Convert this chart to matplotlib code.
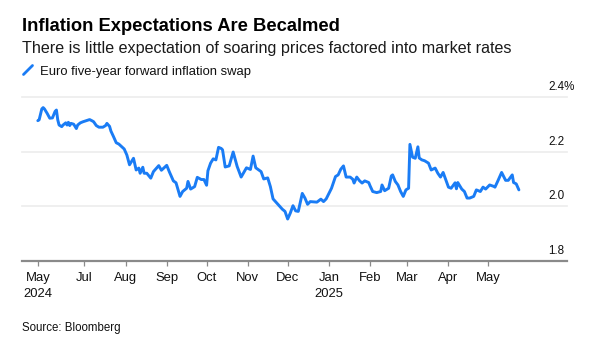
import matplotlib
matplotlib.use('Agg')
import matplotlib.pyplot as plt
import matplotlib.transforms as mtransforms
from matplotlib.lines import Line2D
import pandas as pd

# ---------------- data ----------------
dates = [
    '2024-05-27', '2024-05-28', '2024-05-30', '2024-05-31', '2024-06-01', '2024-06-03',
    '2024-06-05', '2024-06-07', '2024-06-09', '2024-06-10', '2024-06-11', '2024-06-12',
    '2024-06-14', '2024-06-15', '2024-06-17', '2024-06-18', '2024-06-19', '2024-06-20',
    '2024-06-21', '2024-06-23', '2024-06-25', '2024-06-26', '2024-06-28', '2024-06-30',
    '2024-07-03', '2024-07-05', '2024-07-07', '2024-07-08', '2024-07-10', '2024-07-12',
    '2024-07-15', '2024-07-17', '2024-07-18', '2024-07-20', '2024-07-21', '2024-07-23',
    '2024-07-25', '2024-07-27', '2024-07-29', '2024-07-31', '2024-08-02', '2024-08-04',
    '2024-08-07', '2024-08-09', '2024-08-11', '2024-08-12', '2024-08-14', '2024-08-15',
    '2024-08-17', '2024-08-20', '2024-08-22', '2024-08-26', '2024-08-28', '2024-09-01',
    '2024-09-03', '2024-09-06', '2024-09-08', '2024-09-11', '2024-09-13', '2024-09-16',
    '2024-09-17', '2024-09-19', '2024-09-22', '2024-09-24', '2024-09-27', '2024-09-29',
    '2024-10-01', '2024-10-02', '2024-10-04', '2024-10-06', '2024-10-08', '2024-10-10',
    '2024-10-12', '2024-10-13', '2024-10-15', '2024-10-18', '2024-10-21', '2024-10-24',
    '2024-10-27', '2024-10-31', '2024-11-03', '2024-11-05', '2024-11-07', '2024-11-11',
    '2024-11-13', '2024-11-16', '2024-11-18', '2024-11-20', '2024-11-24', '2024-11-27',
    '2024-11-29', '2024-12-01', '2024-12-03', '2024-12-05', '2024-12-07', '2024-12-09',
    '2024-12-12', '2024-12-14', '2024-12-16', '2024-12-18', '2024-12-23', '2024-12-26',
    '2024-12-28', '2024-12-30', '2025-01-03', '2025-01-06', '2025-01-08', '2025-01-10',
    '2025-01-12', '2025-01-14', '2025-01-17', '2025-01-19', '2025-01-20', '2025-01-22',
    '2025-01-24', '2025-01-26', '2025-01-28', '2025-01-31', '2025-02-01', '2025-02-03',
    '2025-02-06', '2025-02-09', '2025-02-10', '2025-02-12', '2025-02-15', '2025-02-17',
    '2025-02-18', '2025-02-20', '2025-02-22', '2025-02-24', '2025-02-26', '2025-02-28',
    '2025-03-02', '2025-03-03', '2025-03-05', '2025-03-07', '2025-03-09', '2025-03-10',
    '2025-03-12', '2025-03-14', '2025-03-17', '2025-03-19', '2025-03-22', '2025-03-24',
    '2025-03-26', '2025-03-28', '2025-03-30', '2025-04-01', '2025-04-03', '2025-04-06',
    '2025-04-07', '2025-04-08', '2025-04-11', '2025-04-13', '2025-04-15', '2025-04-17',
    '2025-04-20', '2025-04-22', '2025-04-25', '2025-04-27', '2025-04-29', '2025-05-02',
    '2025-05-05', '2025-05-06', '2025-05-08', '2025-05-11', '2025-05-14', '2025-05-16',
    '2025-05-19', '2025-05-20', '2025-05-22', '2025-05-24',
]
swap_rate = [
    2.315, 2.318, 2.358, 2.363, 2.358, 2.342,
    2.324, 2.325, 2.349, 2.354, 2.318, 2.299,
    2.293, 2.299, 2.307, 2.299, 2.309, 2.297,
    2.305, 2.302, 2.286, 2.299, 2.307, 2.311,
    2.316, 2.319, 2.314, 2.311, 2.297, 2.291,
    2.291, 2.297, 2.305, 2.294, 2.277, 2.256,
    2.234, 2.229, 2.220, 2.211, 2.189, 2.153,
    2.177, 2.134, 2.141, 2.122, 2.144, 2.122,
    2.122, 2.104, 2.128, 2.150, 2.133, 2.151,
    2.127, 2.094, 2.087, 2.037, 2.055, 2.067,
    2.092, 2.064, 2.073, 2.107, 2.099, 2.099,
    2.078, 2.131, 2.159, 2.175, 2.171, 2.217,
    2.213, 2.208, 2.145, 2.149, 2.200, 2.147,
    2.108, 2.142, 2.136, 2.185, 2.142, 2.128,
    2.101, 2.105, 2.073, 2.028, 2.006, 1.990,
    1.982, 1.954, 1.976, 2.003, 1.984, 1.982,
    2.048, 2.031, 2.008, 2.018, 2.016, 2.027,
    2.018, 2.028, 2.067, 2.110, 2.116, 2.137,
    2.149, 2.108, 2.108, 2.100, 2.086, 2.108,
    2.095, 2.086, 2.094, 2.088, 2.076, 2.055,
    2.051, 2.055, 2.079, 2.058, 2.067, 2.112,
    2.116, 2.092, 2.079, 2.055, 2.037, 2.061,
    2.067, 2.228, 2.181, 2.177, 2.219, 2.178,
    2.171, 2.168, 2.159, 2.134, 2.141, 2.122,
    2.108, 2.125, 2.098, 2.071, 2.067, 2.087,
    2.065, 2.088, 2.064, 2.055, 2.031, 2.031,
    2.037, 2.061, 2.055, 2.071, 2.064, 2.079,
    2.074, 2.071, 2.092, 2.125, 2.096, 2.096,
    2.116, 2.088, 2.083, 2.061,
]
tick_dates = ['2024-05-27', '2024-07-01', '2024-08-01', '2024-09-01', '2024-10-01',
              '2024-11-01', '2024-12-01', '2025-01-01', '2025-02-01', '2025-03-01',
              '2025-04-01', '2025-05-01']
tick_labels = ['May\n2024', 'Jul', 'Aug', 'Sep', 'Oct', 'Nov', 'Dec', 'Jan\n2025',
               'Feb', 'Mar', 'Apr', 'May']
y_ticks = [1.8, 2.0, 2.2, 2.4]
y_tick_labels = ['1.8', '2.0', '2.2', '2.4%']

title = 'Inflation Expectations Are Becalmed'
subtitle = 'There is little expectation of soaring prices factored into market rates'
legend_label = 'Euro five-year forward inflation swap'
source = 'Source: Bloomberg'

# ---------------- style ----------------
plt.rcParams['font.family'] = ['Liberation Sans', 'DejaVu Sans']
BLUE = '#1a7cf5'
W, H = 589, 354

fig = plt.figure(figsize=(W / 100, H / 100), dpi=100)
ax_left, ax_right, ax_top, ax_bot = 22, 567, 97.5, 261
ax = fig.add_axes([ax_left / W, (H - ax_bot) / H, (ax_right - ax_left) / W, (ax_bot - ax_top) / H])

x = pd.to_datetime(dates)
ax.plot(x, swap_rate, color=BLUE, lw=2.1, solid_joinstyle='round',
        solid_capstyle='round', zorder=3)

ax.set_ylim(y_ticks[0], y_ticks[-1])
ax.set_xlim(pd.Timestamp('2024-05-27') - pd.Timedelta(days=11.9),
            pd.Timestamp('2024-05-27') + pd.Timedelta(days=398.2))

for v in y_ticks[1:]:
    ax.axhline(v, color='#ececec', lw=1.2, zorder=1, clip_on=False)

ax.set_yticks([])
for s in ['top', 'right', 'left']:
    ax.spines[s].set_visible(False)
ax.spines['bottom'].set_color('#8a8a8a')
ax.spines['bottom'].set_linewidth(1.6)

ax.set_xticks(pd.to_datetime(tick_dates))
ax.set_xticklabels(tick_labels)
ax.tick_params(axis='x', length=3.3, width=0.9, color='#8a8a8a', pad=4.5,
               labelsize=9.4, labelcolor='#111111')
for lbl in ax.get_xticklabels():
    lbl.set_linespacing(1.45)

ytrans = mtransforms.offset_copy(ax.get_yaxis_transform(), fig=fig, x=-19, y=10, units='dots')
for v, lab in zip(y_ticks, y_tick_labels):
    ax.text(1, v, lab, transform=ytrans, ha='left', va='center', fontsize=8.4, color='#111111')

# ---------------- texts ----------------
fig.text(22 / W, 1 - 31 / H, title, fontsize=13.2, fontweight='bold', va='baseline', color='#000000')
fig.text(22 / W, 1 - 53.3 / H, subtitle, fontsize=11.6, va='baseline', color='#1a1a1a')
fig.add_artist(Line2D([23.5 / W, 32.5 / W], [1 - 74.5 / H, 1 - 65.5 / H],
                      transform=fig.transFigure, color=BLUE, lw=2.0, solid_capstyle='round'))
fig.text(40 / W, 1 - 75 / H, legend_label, fontsize=9.4, va='baseline', color='#111111')
fig.text(22 / W, 1 - 331 / H, source, fontsize=8.3, va='baseline', color='#111111')

fig.savefig('out.png', dpi=100)
